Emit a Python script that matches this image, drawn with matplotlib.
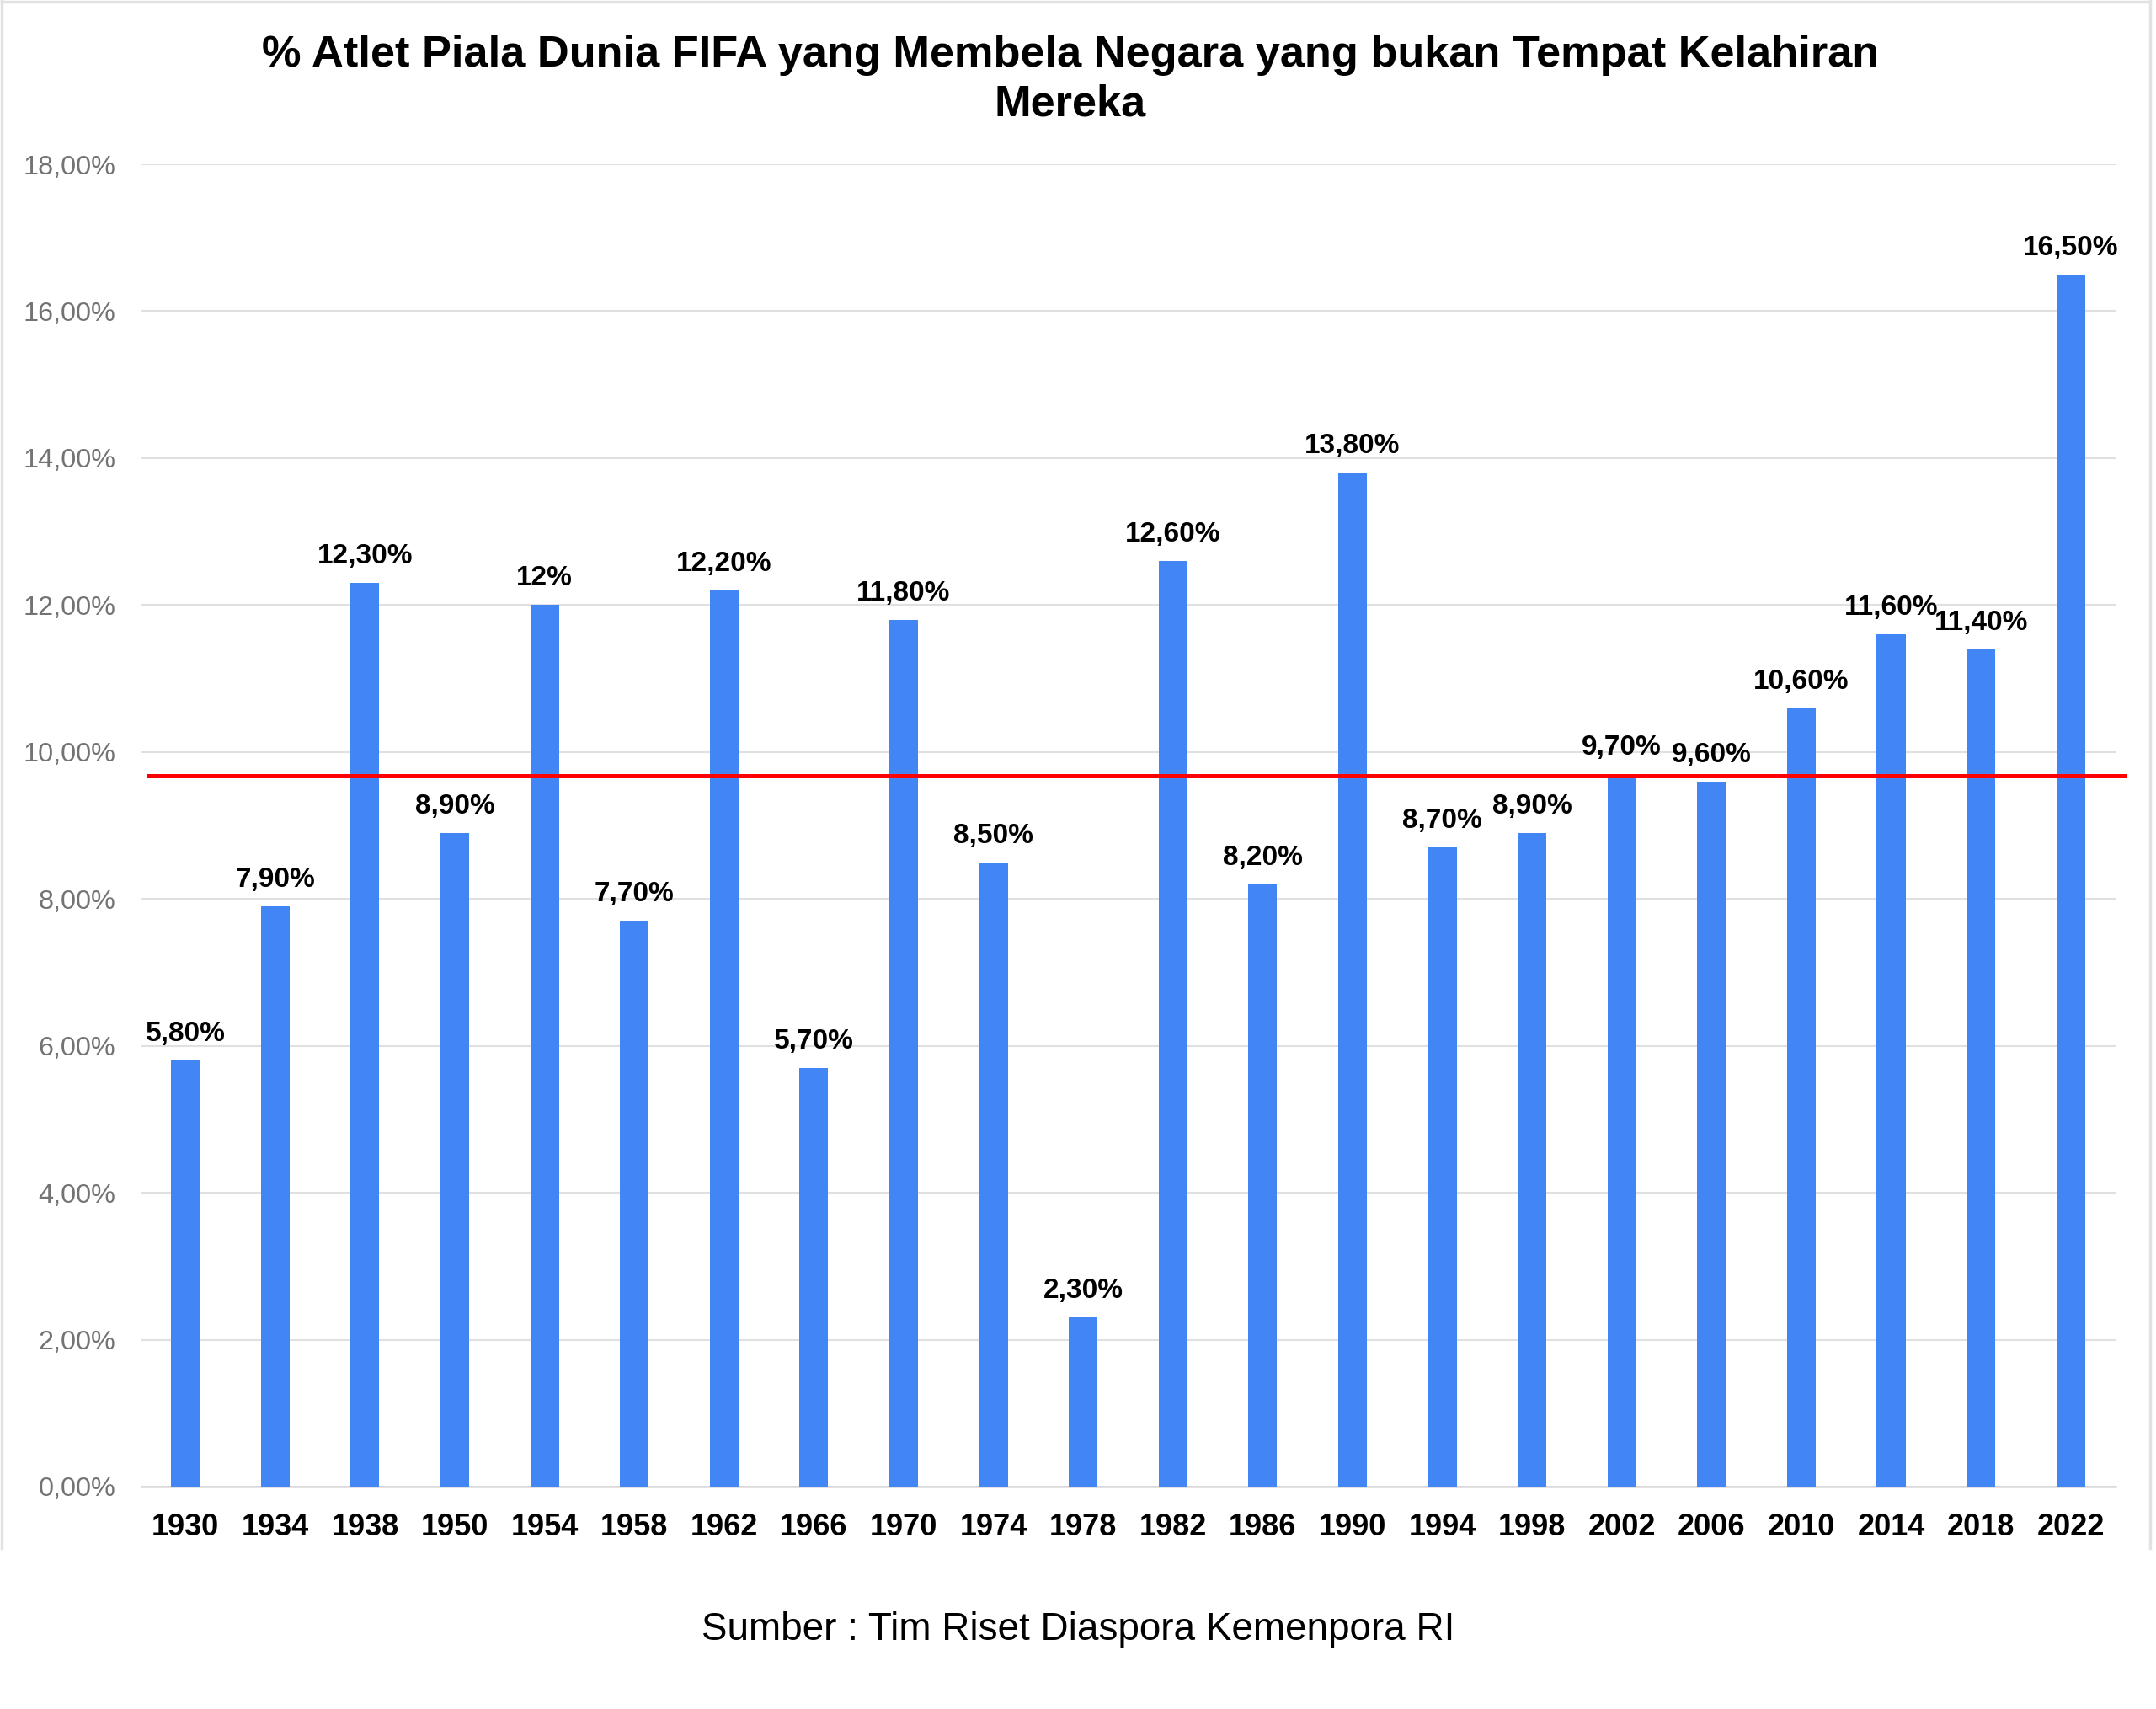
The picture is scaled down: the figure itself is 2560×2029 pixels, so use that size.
import matplotlib
matplotlib.use("Agg")
import matplotlib.pyplot as plt
from matplotlib.lines import Line2D
import numpy as np

# data
years = ["1930", "1934", "1938", "1950", "1954", "1958", "1962", "1966", "1970", "1974", "1978",
         "1982", "1986", "1990", "1994", "1998", "2002", "2006", "2010", "2014", "2018", "2022"]
pct = [5.8, 7.9, 12.3, 8.9, 12.0, 7.7, 12.2, 5.7, 11.8, 8.5, 2.3,
       12.6, 8.2, 13.8, 8.7, 8.9, 9.7, 9.6, 10.6, 11.6, 11.4, 16.5]
labels = ["5,80%", "7,90%", "12,30%", "8,90%", "12%", "7,70%", "12,20%", "5,70%", "11,80%", "8,50%", "2,30%",
          "12,60%", "8,20%", "13,80%", "8,70%", "8,90%", "9,70%", "9,60%", "10,60%", "11,60%", "11,40%", "16,50%"]
ref_line = 9.68
yticks = [0, 2, 4, 6, 8, 10, 12, 14, 16, 18]
ytick_labels = ["0,00%", "2,00%", "4,00%", "6,00%", "8,00%", "10,00%", "12,00%", "14,00%", "16,00%", "18,00%"]

title = "% Atlet Piala Dunia FIFA yang Membela Negara yang bukan Tempat Kelahiran\nMereka"
source = "Sumber : Tim Riset Diaspora Kemenpora RI"

plt.rcParams["font.family"] = ["Liberation Sans", "DejaVu Sans"]

W, H = 2560, 2029
fig = plt.figure(figsize=(W / 100, H / 100), dpi=100)
fig.patch.set_facecolor("white")

# axes placement in pixels
x0, x1 = 168, 2512
y_top, y_bot = 195, 1765
ax = fig.add_axes([x0 / W, 1 - y_bot / H, (x1 - x0) / W, (y_bot - y_top) / H])

x = np.arange(len(years))
ax.bar(x, pct, width=0.32, color="#4285F4", zorder=3)

for xi, v, lab in zip(x, pct, labels):
    ax.annotate(lab, (xi, v), xytext=(0, 16.5), textcoords="offset points",
                ha="center", va="baseline", fontsize=24, fontweight="bold", color="black", zorder=5)

ax.axhline(ref_line, xmin=(176 - x0) / (x1 - x0), xmax=(2523 - x0) / (x1 - x0),
           color="#ff0000", lw=3.6, zorder=4, clip_on=False)

ax.set_xlim(-0.49, 21.5)
ax.set_ylim(0, 18)
ax.set_yticks(yticks)
ax.set_yticklabels(ytick_labels)
ax.set_xticks(x)
ax.set_xticklabels(years)

ax.tick_params(axis="y", length=0, pad=22, labelsize=23.3, labelcolor="#737373")
ax.tick_params(axis="x", length=0, pad=22, labelsize=26, labelcolor="black")
for t in ax.get_xticklabels():
    t.set_fontweight("bold")

ax.grid(axis="y", color="#e0e0e0", lw=1.5, zorder=0)
ax.set_axisbelow(True)
for s in ["top", "right", "left"]:
    ax.spines[s].set_visible(False)
ax.spines["bottom"].set_color("#d9d9d9")
ax.spines["bottom"].set_linewidth(1.8)

fig.text(1271 / W, 1 - 41 / H, title, ha="center", va="top", fontsize=37.7,
         fontweight="bold", color="black", linespacing=1.24)

fig.text(0.5, 1 - 1947 / H, source, ha="center", va="baseline", fontsize=33, color="black")

# light frame around the chart area (no bottom edge)
fr_col = "#e2e2e2"
fy = 1 - 1838 / H
fig.add_artist(Line2D([2 / W, 2 / W], [fy, 1], color=fr_col, lw=2.5, transform=fig.transFigure))
fig.add_artist(Line2D([2 / W, 2553 / W], [1 - 1.5 / H, 1 - 1.5 / H], color=fr_col, lw=2.5, transform=fig.transFigure))
fig.add_artist(Line2D([2553 / W, 2553 / W], [fy, 1], color=fr_col, lw=2.5, transform=fig.transFigure))

fig.savefig("out.png", dpi=100, facecolor="white")
